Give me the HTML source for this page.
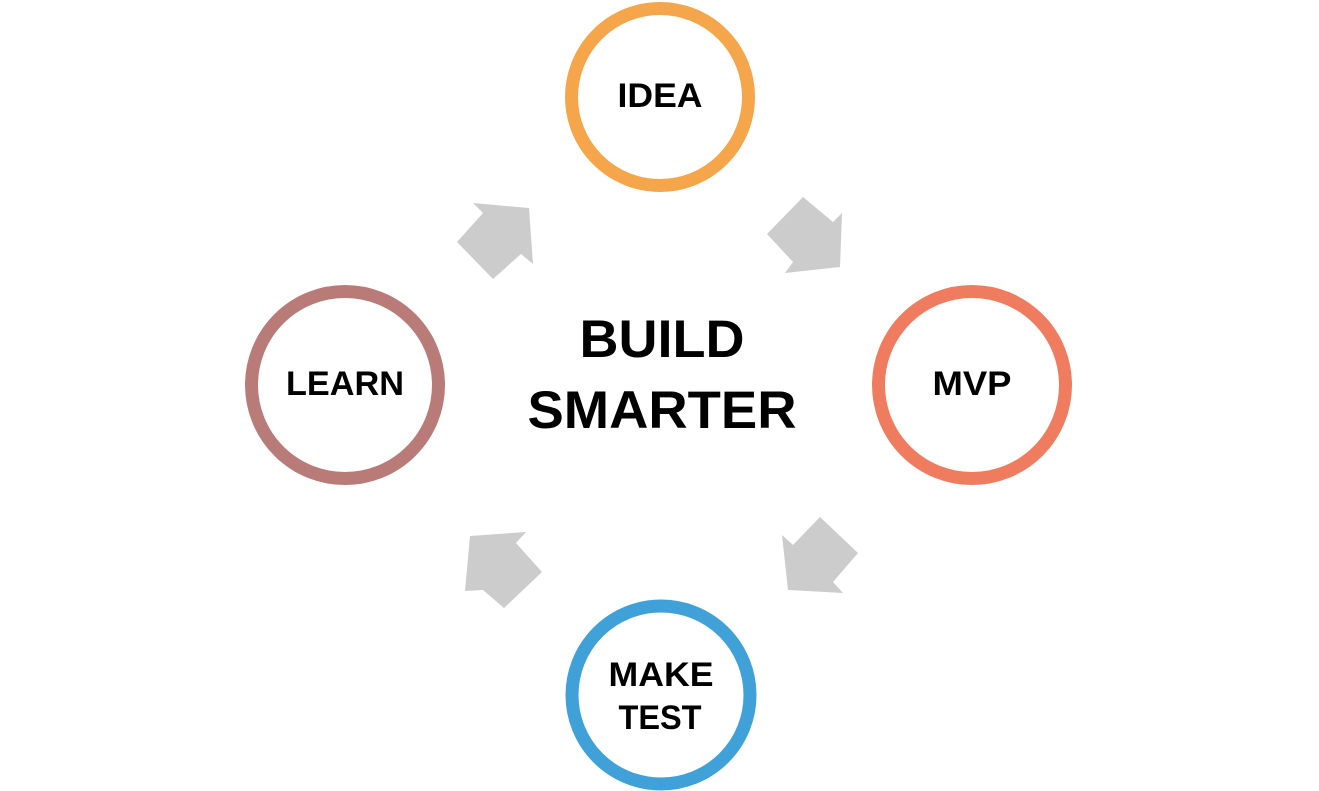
<!DOCTYPE html>
<html><head><meta charset="utf-8"><style>
html,body{margin:0;padding:0;background:#fff;}
svg{display:block;}
text{font-family:"Liberation Sans",sans-serif;font-weight:bold;fill:#000;}
</style></head><body>
<svg width="1319" height="791" viewBox="0 0 1319 791" xmlns="http://www.w3.org/2000/svg">
<g fill="#cccccc">
<polygon points="473,203 529,208 533,264 521,254 493,279 457,242 483,213"/>
<polygon points="803,197 833,222 842,213 840,267 785,273 793,262 767,234"/>
<polygon points="470,536 526,532 516,543 542,572 504,608 483,590 465,591"/>
<polygon points="782,535 793,545 820,517 858,553 833,582 843,593 788,590"/>
</g>
<g fill="none" stroke-width="13">
<circle cx="660" cy="97" r="88.5" stroke="#f5a54a"/>
<circle cx="972" cy="385" r="93.5" stroke="#f07c5f"/>
<circle cx="345" cy="385" r="93.5" stroke="#b97b78"/>
<circle cx="661" cy="695" r="89" stroke="#40a1d9"/>
</g>
<text x="660" y="107" font-size="34" text-anchor="middle" textLength="85" lengthAdjust="spacingAndGlyphs">IDEA</text>
<text x="972" y="395" font-size="34" text-anchor="middle" textLength="79" lengthAdjust="spacingAndGlyphs">MVP</text>
<text x="345" y="395" font-size="34" text-anchor="middle" textLength="118" lengthAdjust="spacingAndGlyphs">LEARN</text>
<text x="661" y="686" font-size="34" text-anchor="middle" textLength="105" lengthAdjust="spacingAndGlyphs">MAKE</text>
<text x="660" y="729" font-size="34" text-anchor="middle" textLength="83" lengthAdjust="spacingAndGlyphs">TEST</text>
<text x="662" y="357" font-size="53" text-anchor="middle" textLength="165" lengthAdjust="spacingAndGlyphs">BUILD</text>
<text x="662" y="428" font-size="53" text-anchor="middle" textLength="269" lengthAdjust="spacingAndGlyphs">SMARTER</text>
</svg>
</body></html>
